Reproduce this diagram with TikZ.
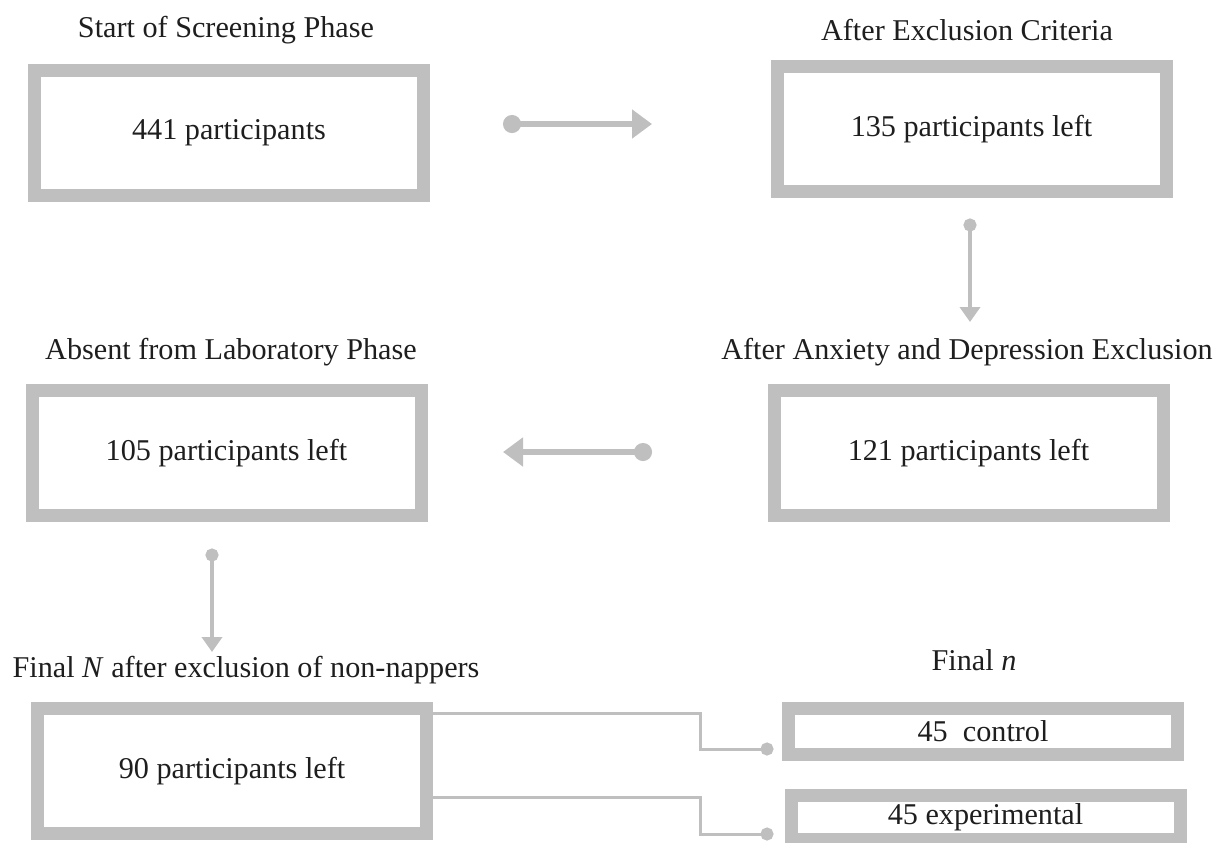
\documentclass[tikz,border=0pt]{standalone}
\usepackage{fontspec}
\setmainfont{Liberation Serif}
\usetikzlibrary{arrows.meta}
\definecolor{boxgray}{RGB}{191,191,191}
\definecolor{txt}{RGB}{30,30,30}
\begin{document}
\begin{tikzpicture}[x=0.5pt,y=-0.5pt,
  every node/.style={font=\fontsize{15.1}{18}\selectfont, text=txt},
  bigbox/.style={draw=boxgray, line width=6.5pt, fill=white, inner sep=0pt,
     minimum width=194.5pt, minimum height=62.5pt},
  smallbox/.style={draw=boxgray, line width=6.5pt, fill=white, inner sep=0pt,
     minimum width=194.5pt, minimum height=23pt},
  lbl/.style={inner sep=0pt},
  bigarrow/.style={draw=boxgray, line width=3pt,
     {Circle[length=9pt,width=9pt]}-{Triangle[length=10pt,width=14pt]}},
  vertarrow/.style={draw=boxgray, line width=2pt,
     {Circle[length=6.5pt,width=6.5pt]}-{Triangle[length=7.5pt,width=10pt]}},
  conn/.style={draw=boxgray, line width=1.5pt, -{Circle[length=6.5pt,width=6.5pt]}}
]
\useasboundingbox (0,0) rectangle (1224,842);

% labels
\node[lbl] (l1) at (226,30) {Start of Screening Phase};
\node[lbl] (l2) at (967,30) {After Exclusion Criteria};
\node[lbl] (l3) at (231,352) {Absent from Laboratory Phase};
\node[lbl] (l4) at (967,352) {After Anxiety and Depression Exclusion};
\node[lbl] (l5) at (246,670) {Final \textit{N} after exclusion of non-nappers};
\node[lbl] (l6) at (974,660) {Final \textit{n}};

% boxes
\node[bigbox] (b1) at (229,132.5) {441 participants};
\node[bigbox] (b2) at (971.5,129) {135 participants left};
\node[bigbox] (b3) at (226.5,453) {105 participants left};
\node[bigbox] (b4) at (968.5,453) {121 participants left};
\node[bigbox] (b5) at (232,771) {90 participants left};
\node[smallbox] (ba) at (983,731.5) {45\ \ control};
\node[smallbox, minimum height=22pt] (bb) at (985.5,817.5) {45 experimental};

% arrow end points
\coordinate (a1s) at (503,124);
\coordinate (a1e) at (652,124);
\coordinate (a2s) at (970,218.5);
\coordinate (a2e) at (970,322);
\coordinate (a3s) at (652,452);
\coordinate (a3e) at (503,452);
\coordinate (a4s) at (212,548.5);
\coordinate (a4e) at (212,652);
\coordinate (ca) at (773.5,749);
\coordinate (cb) at (773.5,834);

\draw[bigarrow] (a1s) -- (a1e);
\draw[vertarrow] (a2s) -- (a2e);
\draw[bigarrow] (a3s) -- (a3e);
\draw[vertarrow] (a4s) -- (a4e);

\draw[conn] (b5.east |- 0,713) -- (700,713) |- (ca);
\draw[conn] (b5.east |- 0,797) -- (700,797) |- (cb);
\end{tikzpicture}
\end{document}
